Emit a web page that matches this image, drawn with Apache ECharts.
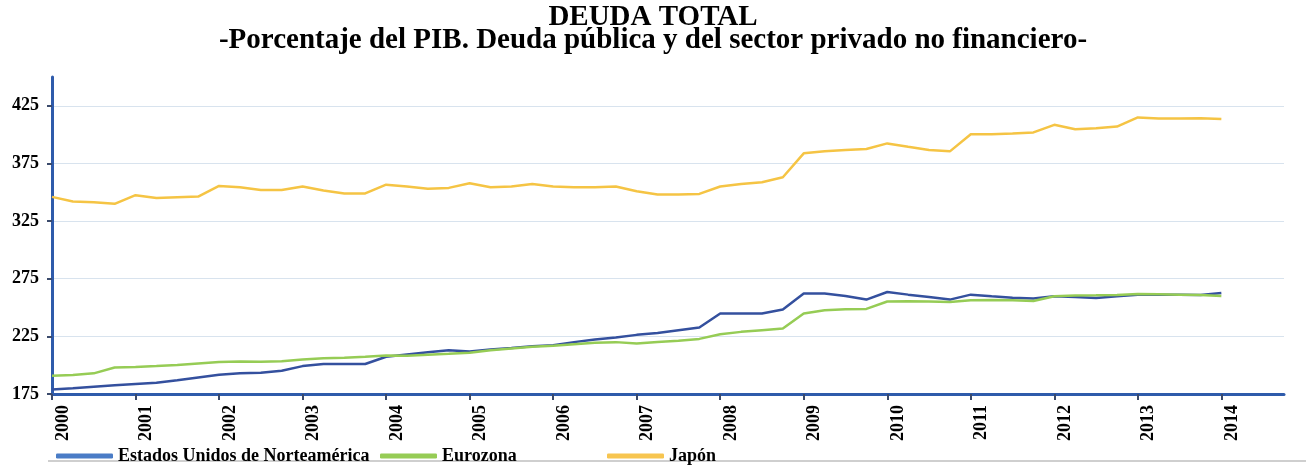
<!DOCTYPE html>
<html>
<head>
<meta charset="utf-8">
<script src="https://cdn.jsdelivr.net/npm/echarts@6/dist/echarts.min.js"></script>
<style>
html,body{margin:0;padding:0;background:#fff;}
#chart{width:1306px;height:465px;}
</style>
</head>
<body>
<div id="chart"></div>
<script>
// ---- Data ----
const years = [2000,2001,2002,2003,2004,2005,2006,2007,2008,2009,2010,2011,2012,2013,2014];
const quarters = ['T1','T2','T3','T4'];
const seriesNames = ['Estados Unidos de Norteamérica','Eurozona','Japón'];
const titleText = 'DEUDA TOTAL';
const subtitleText = '-Porcentaje del PIB. Deuda pública y del sector privado no financiero-';

// Quarterly values, 2000 T1 .. 2014 T1
const usa = [
  179, 180, 181.3, 182.5,
  183.7, 184.8, 187, 189.4,
  191.7, 192.9, 193.4, 195.2,
  199.2, 201, 201, 201,
  207.3, 209.3, 211.3, 213,
  211.9, 213.6, 215, 216.5,
  217.4, 220, 222.3, 224,
  226.3, 228, 230.4, 232.7,
  244.8, 244.8, 244.8, 248.3,
  262.1, 262.1, 260.1, 256.9,
  263.5, 261.2, 259.2, 256.9,
  261.2, 259.8, 258.6, 257.8,
  259.8, 259.2, 258.3, 259.8,
  261.2, 261.2, 261.2, 260.9,
  262.6
];
const eurozona = [
  190.9, 191.4, 192.9, 198,
  198.4, 199.2, 200.1, 201.5,
  202.7, 203.3, 203, 203.5,
  205, 206.1, 206.4, 207.3,
  208.5, 208.2, 209.1, 209.9,
  210.8, 213, 214.5, 215.9,
  216.8, 218.2, 219.4, 220,
  218.8, 220.2, 221.1, 222.8,
  226.9, 228.9, 230.4, 231.8,
  244.8, 247.7, 248.5, 248.8,
  255.2, 255.4, 255.2, 254.9,
  256.3, 256.6, 256.3, 255.7,
  259.8, 260.4, 260.6, 260.9,
  261.8, 261.5, 261.2, 260.9,
  260
];
const japon = [
  346, 342, 341.3, 340,
  347.5, 345, 345.7, 346.3,
  355.5, 354.3, 352, 352,
  355, 351.5, 349, 349,
  356.6, 355, 353, 353.8,
  357.8, 354.3, 355, 357.2,
  355, 354.3, 354.3, 355,
  350.9, 348, 348, 348.6,
  355, 357.2, 358.7, 363,
  383.8, 385.5, 386.7, 387.5,
  392.4, 389.5, 386.7, 385.5,
  400.4, 400.4, 401, 401.9,
  408.5, 404.7, 405.6, 407,
  414.9, 414, 414, 414.3,
  413.5
];

// ---- Build category axis (quarters) ----
const categories = [];
years.forEach(y => quarters.forEach(q => categories.push(y + ' ' + q)));

const serif = 'Liberation Serif';
const lineColors = ['#34509e', '#96cc55', '#f5c444'];
const legendIconColors = ['#4a7cc6', '#96cc55', '#f7c550'];
const legendLefts = [56, 380, 607];

const legendCommon = {
  top: 447,
  padding: 0,
  itemGap: 0,
  icon: 'roundRect',
  itemWidth: 57,
  itemHeight: 5,
  textStyle: { fontFamily: serif, fontWeight: 'bold', fontSize: 18, color: '#000' }
};

const chart = echarts.init(document.getElementById('chart'));
chart.setOption({
  backgroundColor: '#fff',
  animation: false,
  title: [
    { text: titleText, left: 'center', top: 3, padding: 0,
      textStyle: { fontFamily: serif, fontWeight: 'bold', fontSize: 29, color: '#000' } },
    { text: subtitleText, left: 'center', top: 26, padding: 0,
      textStyle: { fontFamily: serif, fontWeight: 'bold', fontSize: 29, color: '#000' } }
  ],
  legend: seriesNames.map((n, i) => Object.assign({}, legendCommon, {
    left: legendLefts[i],
    data: [{ name: n, itemStyle: { color: legendIconColors[i] } }]
  })),
  grid: { left: 52, right: 22, top: 77, bottom: 71, containLabel: false },
  xAxis: {
    type: 'category',
    data: categories,
    boundaryGap: false,
    axisLine: { lineStyle: { color: '#2f5bab', width: 3 } },
    axisTick: { interval: 3, length: 6, lineStyle: { color: '#3b4a6b', width: 2 } },
    axisLabel: {
      interval: 3,
      rotate: 90,
      margin: 11,
      verticalAlign: 'top',
      lineHeight: 22,
      fontFamily: serif, fontWeight: 'bold', fontSize: 18, color: '#000',
      formatter: v => v.split(' ')[0]
    },
    splitLine: { show: false }
  },
  yAxis: {
    type: 'value',
    min: 175,
    max: 450,
    interval: 50,
    axisLine: { show: true, lineStyle: { color: '#2f5bab', width: 3 } },
    axisTick: { show: true, length: 5, lineStyle: { color: '#3b4a6b', width: 2 } },
    axisLabel: {
      showMaxLabel: false,
      margin: 13,
      fontFamily: serif, fontWeight: 'bold', fontSize: 18, color: '#000'
    },
    splitLine: { show: true, showMinLine: false, showMaxLine: false,
      lineStyle: { color: '#d8e3ee', width: 1 } }
  },
  graphic: [
    { type: 'line', z: -1, shape: { x1: 48, y1: 461, x2: 1306, y2: 461 },
      style: { stroke: '#cfcfcf', lineWidth: 2 } }
  ],
  series: [
    { name: seriesNames[0], type: 'line', data: usa, symbol: 'none',
      lineStyle: { color: lineColors[0], width: 2.5 }, itemStyle: { color: lineColors[0] } },
    { name: seriesNames[1], type: 'line', data: eurozona, symbol: 'none',
      lineStyle: { color: lineColors[1], width: 2.5 }, itemStyle: { color: lineColors[1] } },
    { name: seriesNames[2], type: 'line', data: japon, symbol: 'none',
      lineStyle: { color: lineColors[2], width: 2.5 }, itemStyle: { color: lineColors[2] } }
  ]
});
</script>
</body>
</html>
